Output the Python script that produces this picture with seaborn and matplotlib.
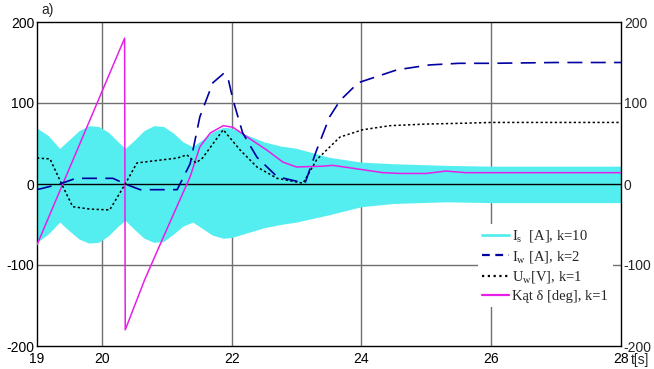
import numpy as np
import pandas as pd
import matplotlib
matplotlib.use("Agg")
import matplotlib.pyplot as plt
import seaborn as sns
from matplotlib.lines import Line2D

# ---------------- data ----------------
# I_s envelope (fast oscillation, k=10)
is_t = [19.0, 19.17, 19.35, 19.5, 19.65, 19.8, 19.95, 20.1, 20.25, 20.36, 20.5, 20.65, 20.8, 20.95,
        21.1, 21.25, 21.4, 21.55, 21.7, 21.87, 22.0, 22.25, 22.5, 22.75, 23.0, 23.5, 24.0, 24.5,
        25.3, 26.0, 27.0, 28.0]
is_up = [69, 60, 44, 55, 66, 72, 71, 64, 52, 44, 54, 66, 72, 71,
         63, 52, 46, 55, 64, 70, 69, 60, 52, 47, 44, 33, 27, 25,
         23, 22, 22, 22]
is_lo = [-72, -62, -47, -58, -68, -73, -72, -64, -52, -45, -56, -67, -72, -71,
         -62, -52, -47, -55, -63, -67, -66, -60, -54, -50, -47, -38, -28, -24,
         -22, -23, -23, -23]

# I_w [A], k=2
iw_t = [19.0, 19.35, 19.6, 20.17, 20.36, 20.59, 21.16, 21.36, 21.51, 21.71, 21.87, 21.94, 22.02,
        22.17, 22.39, 22.7, 23.13, 23.31, 23.51, 23.67, 23.95, 24.4, 24.55, 25.05, 25.5, 26.0, 27.0, 28.0]
iw_v = [-7, 0, 7, 7, 0, -7, -7, 25, 83, 125, 136, 132, 104,
        63, 33, 9, 1, 42, 83, 103, 125, 137, 141, 147, 149, 149, 150, 150]

# U_w [V], k=1
uw_t = [19.0, 19.2, 19.38, 19.55, 19.82, 20.12, 20.36, 20.54, 20.74, 21.16, 21.31, 21.45, 21.55,
        21.87, 22.13, 22.39, 22.7, 23.1, 23.31, 23.67, 24.02, 24.44, 25.0, 25.56, 26.0, 27.0, 28.0]
uw_v = [32, 31, 0, -28, -31, -32, 0, 26, 28, 32, 36, 26, 32,
        67, 42, 21, 7, 1, 30, 58, 67, 72, 74, 75, 76, 76, 76]

# Kat delta [deg], k=1
kd_t = [19.0, 20.35, 20.36, 20.66, 21.0, 21.36, 21.51, 21.67, 21.87, 22.02, 22.24, 22.54, 22.79,
        23.0, 23.4, 23.56, 23.82, 24.33, 24.6, 25.0, 25.3, 25.6, 26.0, 27.0, 28.0]
kd_v = [-75, 180, -180, -118, -56, 9, 46, 63, 72, 70, 58, 42, 27,
        21, 22, 23, 20, 14, 13, 13, 16, 14, 14, 14, 14]

x_ticks = [19, 20, 22, 24, 26, 28]
x_grid = [20, 22, 24, 26]
y_ticks = [-200, -100, 0, 100, 200]
labels = ["I$_\\mathrm{s}$  [A], k=10", "I$_\\mathrm{w}$ [A], k=2",
          "U$_\\mathrm{w}$[V], k=1", "K\u0105t \u03b4 [deg], k=1"]

# ---------------- style ----------------
sns.set_style("white")
plt.rcParams["font.family"] = ["Liberation Sans", "DejaVu Sans"]
plt.rcParams["axes.unicode_minus"] = False
plt.rcParams["mathtext.fontset"] = "custom"
plt.rcParams["mathtext.rm"] = "Liberation Serif"
plt.rcParams["mathtext.it"] = "Liberation Serif:italic"

CYAN = "#55eef0"
NAVY = "#0000a0"
MAG = "#e81ee8"

fig = plt.figure(figsize=(6.54, 3.69), dpi=100)
ax = fig.add_axes([37 / 654, 1 - 346 / 369, (621 - 37) / 654, (346 - 22) / 369])

# grid
for xg in x_grid:
    ax.axvline(xg, color="#707070", lw=1.0, zorder=0)
for yg in [-100, 100]:
    ax.axhline(yg, color="#707070", lw=1.0, zorder=0)

# I_s band
ax.fill_between(is_t, is_lo, is_up, color=CYAN, lw=0, zorder=1)
ax.axhline(0, color="black", lw=1.0, zorder=2)

df_iw = pd.DataFrame({"t": iw_t, "v": iw_v})
df_uw = pd.DataFrame({"t": uw_t, "v": uw_v})
df_kd = pd.DataFrame({"t": kd_t, "v": kd_v})

sns.lineplot(data=df_kd, x="t", y="v", ax=ax, color=MAG, lw=1.1, estimator=None, sort=False, zorder=3)
sns.lineplot(data=df_uw, x="t", y="v", ax=ax, color="black", lw=1.1, estimator=None, sort=False,
             zorder=4)
ax.lines[-1].set_dashes((1.5, 1.6))
sns.lineplot(data=df_iw, x="t", y="v", ax=ax, color=NAVY, lw=1.2, estimator=None, sort=False, zorder=5)
ax.lines[-1].set_dashes((9, 5))

ax.set_xlim(19, 28)
ax.set_ylim(-200, 200)
ax.set_xlabel("")
ax.set_ylabel("")
ax.set_xticks(x_ticks)
ax.set_xticklabels([str(v) for v in x_ticks])
ax.set_yticks(y_ticks)
ax.set_yticklabels([str(v) for v in y_ticks])
ax.tick_params(axis="both", length=0, labelsize=10, colors="black", pad=2)
ax.tick_params(axis="x", pad=4)
for s in ax.spines.values():
    s.set_color("black")
    s.set_linewidth(1.0)

ax2 = ax.twinx()
ax2.set_ylim(-200, 200)
ax2.set_yticks(y_ticks)
ax2.set_yticklabels([str(v) for v in y_ticks])
ax2.tick_params(axis="y", length=0, labelsize=10, pad=2)
for s in ax2.spines.values():
    s.set_visible(False)
ax2.grid(False)

# legend
handles = [
    Line2D([], [], color=CYAN, lw=2.0),
    Line2D([], [], color=NAVY, lw=1.6, dashes=(3.5, 2.5)),
    Line2D([], [], color="black", lw=1.6, dashes=(1, 1.6)),
    Line2D([], [], color=MAG, lw=1.6),
]
leg = ax.legend(handles, labels, loc="upper left", bbox_to_anchor=((478 - 37) / 584, (346 - 224) / 324),
                prop={"family": "Liberation Serif", "size": 10.5}, frameon=True, framealpha=1,
                facecolor="white", edgecolor="none", fancybox=False, handlelength=1.8,
                handletextpad=0.25, labelspacing=0.3, borderpad=0.3, borderaxespad=0)
leg.set_zorder(10)

fig.text(631 / 654, 1 - 360 / 369, "t[s]", ha="left", va="center", fontsize=10)
fig.text(48 / 654, 1 - 10 / 369, "a)", ha="center", va="center", fontsize=10)

fig.savefig("out.png", dpi=100)
